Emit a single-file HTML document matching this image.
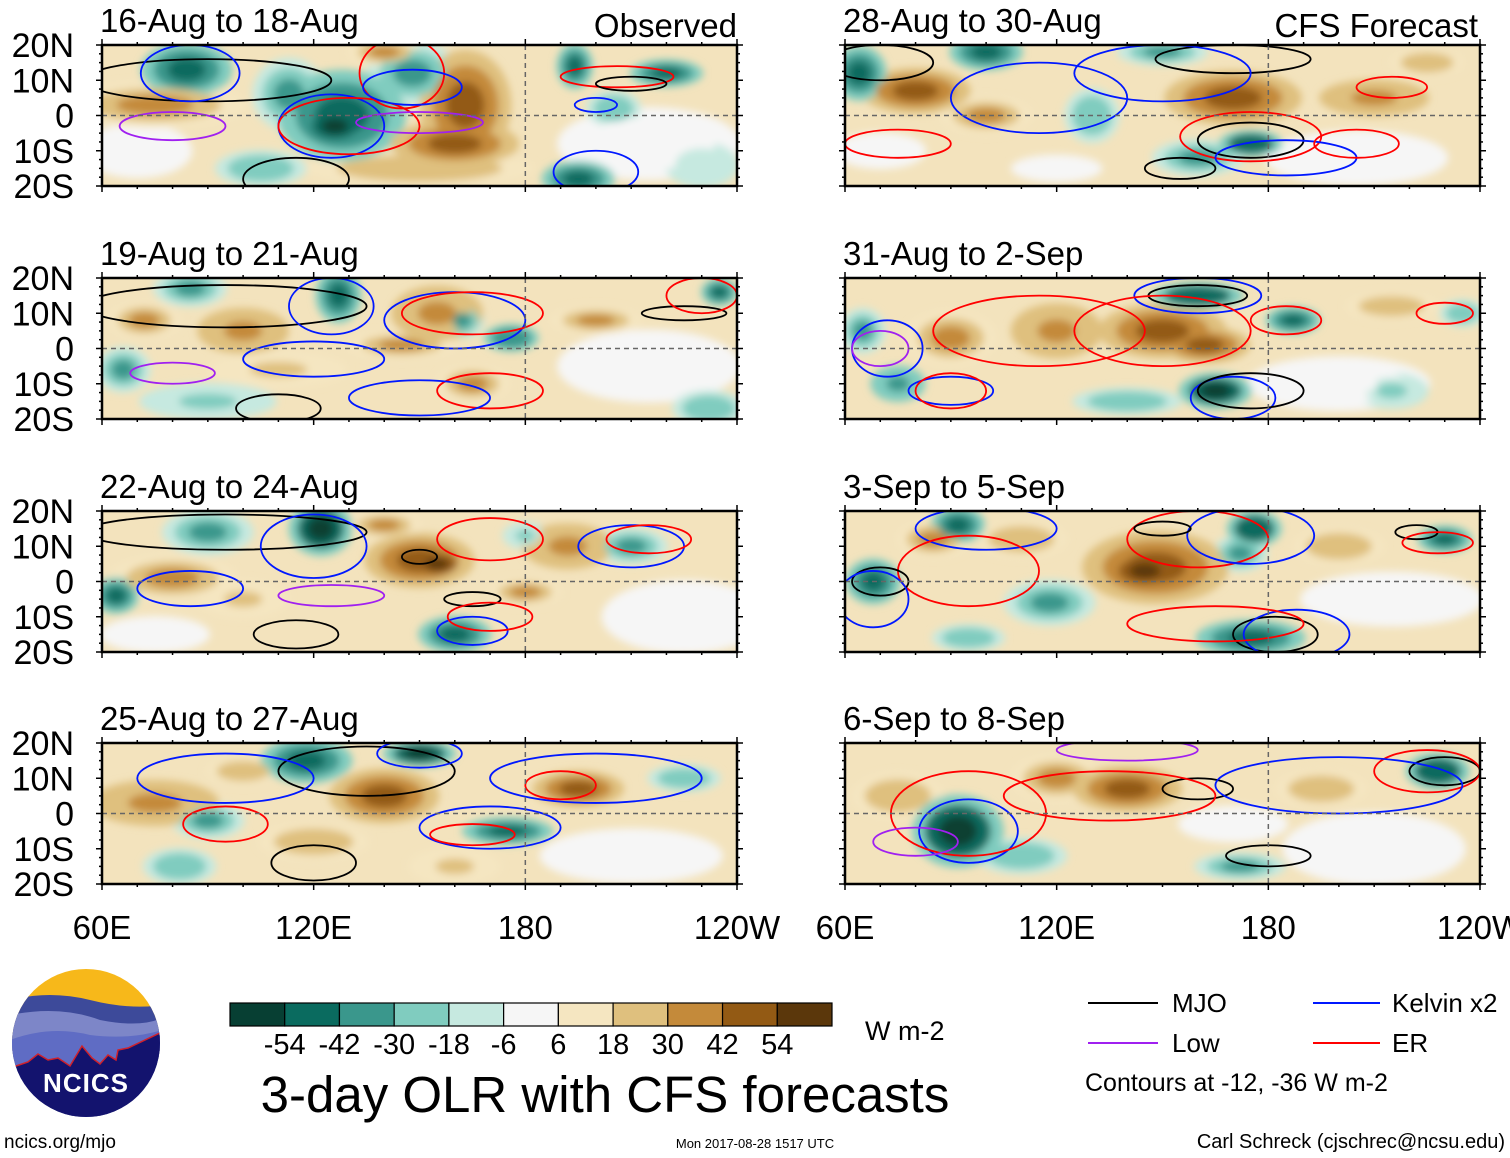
<!DOCTYPE html>
<html><head><meta charset="utf-8">
<style>
body{margin:0;background:#fff;}
svg{display:block;font-family:"Liberation Sans",Arial,sans-serif;}
</style></head>
<body>
<svg id="fig" width="1510" height="1158" viewBox="0 0 1510 1158" xmlns="http://www.w3.org/2000/svg">
<defs>
<filter id="blur" x="-30%" y="-30%" width="160%" height="160%"><feGaussianBlur stdDeviation="4"/></filter>
<clipPath id="clipL"><rect x="0" y="0" width="635" height="141"/></clipPath>
</defs>
<g id="panels"></g>
<g id="bottom">
  <g>
    <clipPath id="logoclip"><circle cx="86" cy="1043" r="74"/></clipPath>
    <g clip-path="url(#logoclip)">
      <rect x="10" y="968" width="152" height="152" fill="#f7b81a"/>
      <path d="M10,1000 Q50,990 90,1000 Q130,1010 162,1005 L162,1120 L10,1120Z" fill="#3d4a9a"/>
      <path d="M10,1015 Q60,1005 100,1020 Q140,1028 162,1018 L162,1120 L10,1120Z" fill="#7d86c8"/>
      <path d="M10,1040 Q50,1025 90,1035 Q130,1040 162,1030 L162,1120 L10,1120Z" fill="#5f6cc4"/>
      <path d="M10,1068 L28,1062 L38,1054 L48,1060 L58,1058 L70,1066 L82,1046 L92,1058 L100,1064 L108,1055 L116,1060 L118,1050 L128,1048 L162,1032 L162,1120 L10,1120Z" fill="#13136e" stroke="#d0202a" stroke-width="1.5"/>
    </g>
    <text x="86" y="1092" font-size="26" font-weight="bold" fill="#fff" text-anchor="middle" letter-spacing="1">NCICS</text>
  </g>
  <text x="4" y="1148" font-size="19">ncics.org/mjo</text>
  <g id="colorbar"></g>
  <text x="865" y="1040" font-size="27">W m-2</text>
  <text x="605" y="1112" font-size="51" text-anchor="middle">3-day OLR with CFS forecasts</text>
  <text x="755" y="1148" font-size="13" text-anchor="middle">Mon 2017-08-28 1517 UTC</text>
  <text x="1505" y="1148" font-size="20" text-anchor="end">Carl Schreck (cjschrec@ncsu.edu)</text>
  <g>
    <g><line x1="1088" y1="1003" x2="1158" y2="1003" stroke="#000" stroke-width="2"/><text x="1172" y="1012" font-size="26">MJO</text></g>
    <g><line x1="1313" y1="1003" x2="1380" y2="1003" stroke="#0018ff" stroke-width="2"/><text x="1392" y="1012" font-size="26">Kelvin x2</text></g>
    <g><line x1="1088" y1="1043" x2="1158" y2="1043" stroke="#a020f0" stroke-width="2"/><text x="1172" y="1052" font-size="26">Low</text></g>
    <g><line x1="1313" y1="1043" x2="1380" y2="1043" stroke="#ff0000" stroke-width="2"/><text x="1392" y="1052" font-size="26">ER</text></g>
    <text x="1085" y="1091" font-size="25">Contours at -12, -36 W m-2</text>
  </g>
</g>
</svg>
<script>
// Colorbar data
const cbBounds = [-54,-42,-30,-18,-6,6,18,30,42,54];
const cbColors = ["#073f33","#0a6b5f","#3a978c","#80ccbf","#c6e9e0","#f6f6f6","#f5e6c1","#dfc07e","#c48a3a","#935a14","#5b370b"];
const cbTicks = ["-54","-42","-30","-18","-6","6","18","30","42","54"];
// panels
const panelTitles = ["16-Aug to 18-Aug","19-Aug to 21-Aug","22-Aug to 24-Aug","25-Aug to 27-Aug","28-Aug to 30-Aug","31-Aug to 2-Sep","3-Sep to 5-Sep","6-Sep to 8-Sep"];
const latLabels = ["20N","10N","0","10S","20S"];
const lonLabels = ["60E","120E","180","120W"];
// blobs: [lon, lat, halfWidthDeg, halfHeightDeg, OLR anomaly]
const blobs0 = [[75,3,20,5,32],[84,13,10,6,-48],[128,0,14,10,-52],[126,-3,7,4,-58],[113,6,8,8,-35],[148,12,10,7,-32],[140,18,8,3,32],[163,3,10,12,42],[160,-8,14,5,52],[150,-15,25,4,25],[194,14,4,5,-45],[220,12,8,3,-45],[195,-18,8,4,-45],[215,-8,20,8,0],[105,-15,10,4,-25],[205,2,6,4,-30],[70,-10,12,6,0],[230,-14,8,5,-15]];
const blobs1 = [[100,5,10,5,38],[85,17,8,4,-32],[127,15,5,6,-48],[155,10,10,6,38],[162,8,5,4,-32],[145,1,12,3,30],[176,3,6,3,-42],[200,8,10,3,32],[235,16,4,3,-45],[165,-10,8,4,30],[66,-6,6,5,-32],[232,-17,8,4,-28],[110,-6,15,4,22],[72,8,8,4,30],[215,-5,20,8,0],[90,-15,15,4,-20]];
const blobs2 = [[122,15,7,6,-56],[90,14,10,5,-32],[80,1,14,5,32],[150,6,12,6,46],[155,5,6,3,58],[192,10,10,5,38],[160,-15,8,4,-44],[210,10,8,4,-34],[180,13,5,3,-22],[64,-4,5,4,-44],[140,16,8,3,30],[225,-10,18,8,0],[100,-5,10,4,22],[180,-3,8,3,30],[75,-15,12,4,0]];
const blobs3 = [[150,17,8,3,-56],[118,15,10,5,-44],[75,3,14,5,38],[140,5,12,6,44],[195,7,10,4,44],[175,-5,10,3,-48],[90,-2,8,4,-34],[225,10,8,3,-30],[82,-15,8,4,-24],[120,-8,12,4,24],[160,-15,10,4,20],[210,-12,20,6,0],[100,12,8,3,24]];
const blobs4 = [[64,12,6,6,-48],[100,18,8,4,-44],[80,7,12,5,42],[100,0,10,4,34],[170,5,15,6,44],[210,5,12,4,38],[175,-8,7,3,-54],[160,-12,10,4,-34],[150,18,10,3,-34],[225,15,8,3,28],[130,0,6,6,-24],[205,-12,20,6,0],[70,-10,10,4,0],[120,-15,10,3,0]];
const blobs5 = [[160,15,10,3,-54],[150,5,14,6,46],[120,5,10,6,38],[162,1,10,4,52],[90,3,10,6,34],[165,-12,8,4,-58],[187,8,6,3,-44],[235,10,5,3,-30],[75,-10,6,4,-38],[65,5,5,5,-34],[215,12,10,3,28],[140,-15,12,3,-24],[200,-10,20,6,0],[215,-12,8,4,-20]];
const blobs6 = [[145,3,8,4,58],[148,4,16,8,44],[68,0,6,5,-44],[92,16,6,4,-44],[118,-6,10,5,-34],[175,-16,12,4,-48],[176,15,6,4,-54],[230,12,6,3,-44],[85,12,8,4,32],[110,12,10,4,28],[200,10,10,4,24],[172,8,6,4,-34],[95,-16,8,3,-28],[215,-5,20,6,0]];
const blobs7 = [[92,-5,10,8,-58],[140,7,12,5,46],[120,10,10,5,34],[228,12,7,4,-54],[195,7,10,4,28],[172,-15,10,3,-34],[75,5,10,5,24],[110,-12,10,4,-24],[170,-3,12,4,0],[210,-10,20,8,0]];
const allBlobs = [blobs0,blobs1,blobs2,blobs3,blobs4,blobs5,blobs6,blobs7];
// contours: [lon, lat, halfWidthDeg, halfHeightDeg, type] type: k=MJO b=Kelvin r=ER p=Low
const cont0 = [[90,10,35,6,"k"],[85,12,14,8,"b"],[125,-3,15,9,"b"],[130,-3,20,8,"r"],[145,12,12,10,"r"],[148,8,14,5,"b"],[206,11,16,3,"r"],[210,9,10,2,"k"],[200,-16,12,6,"b"],[115,-18,15,6,"k"],[80,-3,15,4,"p"],[150,-2,18,3,"p"],[200,3,6,2,"b"]];
const cont1 = [[95,12,40,6,"k"],[125,12,12,8,"b"],[160,8,20,8,"b"],[165,10,20,6,"r"],[225,10,12,2,"k"],[230,15,10,5,"r"],[170,-12,15,5,"r"],[120,-3,20,5,"b"],[110,-17,12,4,"k"],[150,-14,20,5,"b"],[80,-7,12,3,"p"]];
const cont2 = [[95,14,40,5,"k"],[120,10,15,9,"b"],[170,12,15,6,"r"],[210,10,15,6,"b"],[215,12,12,4,"r"],[150,7,5,2,"k"],[165,-5,8,2,"k"],[165,-14,10,4,"b"],[115,-15,12,4,"k"],[85,-2,15,5,"b"],[125,-4,15,3,"p"],[170,-10,12,4,"r"]];
const cont3 = [[135,12,25,7,"k"],[95,10,25,7,"b"],[150,17,12,4,"b"],[200,10,30,7,"b"],[170,-4,20,6,"b"],[165,-6,12,3,"r"],[95,-3,12,5,"r"],[120,-14,12,5,"k"],[190,8,10,4,"r"]];
const cont4 = [[70,15,15,5,"k"],[170,16,22,4,"k"],[150,12,25,8,"b"],[115,5,25,10,"b"],[175,-7,15,5,"k"],[175,-6,20,7,"r"],[185,-12,20,5,"b"],[155,-15,10,3,"k"],[205,-8,12,4,"r"],[215,8,10,3,"r"],[75,-8,15,4,"r"]];
const cont5 = [[160,15,14,3,"k"],[160,15,18,5,"b"],[150,5,25,10,"r"],[115,5,30,10,"r"],[185,8,10,4,"r"],[230,10,8,3,"r"],[170,-14,12,6,"b"],[175,-12,15,5,"k"],[90,-12,12,4,"b"],[72,0,10,8,"b"],[70,0,8,5,"p"],[90,-12,10,5,"r"]];
const cont6 = [[100,15,20,6,"b"],[95,3,20,10,"r"],[160,12,20,8,"r"],[175,13,18,8,"b"],[150,15,8,2,"k"],[222,14,6,2,"k"],[228,11,10,3,"r"],[182,-15,12,5,"k"],[188,-15,15,7,"b"],[165,-12,25,5,"r"],[70,0,8,4,"k"],[68,-5,10,8,"b"]];
const cont7 = [[95,-5,14,9,"b"],[95,0,22,12,"r"],[160,7,10,3,"k"],[135,5,30,7,"r"],[180,-12,12,3,"k"],[230,12,10,4,"k"],[225,12,15,6,"r"],[200,8,35,8,"b"],[140,18,20,3,"p"],[80,-8,12,4,"p"]];
const allCont = [cont0,cont1,cont2,cont3,cont4,cont5,cont6,cont7];

const NS="http://www.w3.org/2000/svg";
function mk(tag, attrs, parent){const e=document.createElementNS(NS,tag);for(const k in attrs)e.setAttribute(k,attrs[k]);if(parent)parent.appendChild(e);return e;}
const W=635, H=141, GROW=1.3;
const xScale = lon => (lon-60)/180*W;
const yScale = lat => (20-lat)/40*H;
function colorFor(v){let i=0;while(i<cbBounds.length && v>=cbBounds[i])i++;return cbColors[i];}
const lineColor={k:"#000",b:"#0018ff",r:"#ff0000",p:"#a020f0"};
const tops=[45,278,511,743], lefts=[102,845];
const root=document.getElementById("panels");
for(let p=0;p<8;p++){
  const col=p<4?0:1, row=p%4;
  const g=mk("g",{transform:`translate(${lefts[col]},${tops[row]})`},root);
  
  
  const t=mk("text",{x:-2,y:-13,"font-size":33},g);t.textContent=panelTitles[p];
  
  
  const inner=mk("g",{"clip-path":"url(#clipL)"},g);
  mk("rect",{x:0,y:0,width:W,height:H,fill:"#f3e3bd"},inner);
  const fg=mk("g",{filter:"url(#blur)"},inner);
  const bl=allBlobs[p].slice().sort((a,b)=>Math.abs(a[4])-Math.abs(b[4]));
  const layers=[[1.0,0.5],[0.72,0.78],[0.42,1.0]];
  for(const [sc,f] of layers){
    for(const b of bl){
      const v=b[4]*f;
      const e=mk("ellipse",{cx:xScale(b[0]),cy:yScale(b[1]),rx:b[2]*GROW*sc*W/180,ry:b[3]*GROW*sc*H/40,fill:colorFor(v)},fg);
      
      
    }
  }
  for(const c of allCont[p]){
    const e=mk("ellipse",{cx:xScale(c[0]),cy:yScale(c[1]),rx:c[2]*W/180,ry:c[3]*H/40,fill:"none",stroke:lineColor[c[4]],"stroke-width":1.8},inner);
    
    
  }
  mk("line",{x1:0,y1:yScale(0),x2:W,y2:yScale(0),stroke:"#666","stroke-width":1.5,"stroke-dasharray":"5,4"},inner);
  mk("line",{x1:xScale(180),y1:0,x2:xScale(180),y2:H,stroke:"#666","stroke-width":1.5,"stroke-dasharray":"5,4"},inner);
  mk("rect",{x:0,y:0,width:W,height:H,fill:"none",stroke:"#000","stroke-width":2.5},g);
  for(let lon=60;lon<=240;lon+=10){const x=xScale(lon);const L=(lon%60===0)?6:3;mk("line",{x1:x,y1:0,x2:x,y2:-L,stroke:"#000","stroke-width":1.5},g);mk("line",{x1:x,y1:H,x2:x,y2:H+L,stroke:"#000","stroke-width":1.5},g);}
  for(let lat=-20;lat<=20;lat+=2.5){const y=yScale(lat);const L=(lat%10===0)?6:3;mk("line",{x1:0,y1:y,x2:-L,y2:y,stroke:"#000","stroke-width":1.5},g);mk("line",{x1:W,y1:y,x2:W+L,y2:y,stroke:"#000","stroke-width":1.5},g);}
  if(col===0){
    latLabels.forEach((s,i)=>{const tt=mk("text",{x:-28,y:yScale(20-i*10)+12,"font-size":34,"text-anchor":"end"},g);tt.textContent=s;
      
      });
  }
  if(row===3){
    lonLabels.forEach((s,i)=>{const tt=mk("text",{x:xScale(60+i*60),y:H+55,"font-size":33,"text-anchor":"middle"},g);tt.textContent=s;
      
      });
  }
}
const tObs=mk("text",{x:737,y:37,"font-size":33,"text-anchor":"end"},root);tObs.textContent="Observed";


const tFc=mk("text",{x:1478,y:37,"font-size":33,"text-anchor":"end"},root);tFc.textContent="CFS Forecast";


// colorbar
const cb=document.getElementById("colorbar");
const cbX0=230, cbW=602, cbY=1003, cbH=23, bw=cbW/cbColors.length;
cbColors.forEach((c,i)=>{const r=mk("rect",{x:cbX0+i*bw,y:cbY,width:bw,height:cbH,fill:c,stroke:"#000","stroke-width":1.2},cb);
  
  });
cbTicks.forEach((s,i)=>{const tt=mk("text",{x:cbX0+(i+1)*bw,y:1054,"font-size":29,"text-anchor":"middle"},cb);tt.textContent=s;
  
  });
</script>
</body></html>
